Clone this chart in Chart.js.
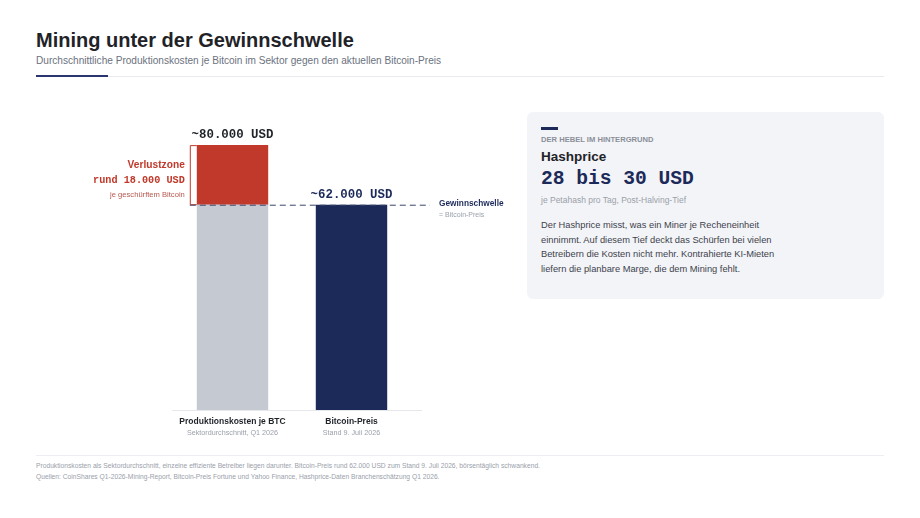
<!DOCTYPE html>
<html>
<head>
<meta charset="utf-8">
<title>Mining unter der Gewinnschwelle</title>
<script src="https://cdn.jsdelivr.net/npm/chart.js@4.4.0/dist/chart.umd.min.js"></script>
<style>
  html, body { margin: 0; padding: 0; background: #fff; }
  body { width: 920px; height: 518px; position: relative; overflow: hidden; font-family: "Liberation Sans", Arial, sans-serif; color: #1f2328; }
  h1 { position: absolute; left: 36px; top: 29px; margin: 0; font-size: 20px; font-weight: 700; color: #1f2328; }
  .sub { position: absolute; left: 36px; top: 55px; font-size: 10.1px; color: #6b7280; }
  .rule { position: absolute; left: 36px; top: 76px; width: 848px; height: 1px; background: #e8eaee; }
  .accent { position: absolute; left: 36px; top: 75px; width: 72px; height: 2px; background: #2b3570; }
  #wrap { position: absolute; left: 36px; top: 95px; width: 500px; height: 350px; }
  .card { position: absolute; left: 527px; top: 112px; width: 357px; height: 187px; background: #f3f4f7; border-radius: 6px; }
  .card .bar { position: absolute; left: 14px; top: 15px; width: 17px; height: 3px; background: #1c2a5a; }
  .card .kicker { position: absolute; left: 14px; top: 23px; font-size: 7.6px; font-weight: 700; color: #8a8f99; }
  .card .name { position: absolute; left: 14px; top: 37px; font-size: 13.5px; font-weight: 700; color: #1f2328; }
  .card .big { position: absolute; left: 14px; top: 56px; font-family: "Liberation Mono", monospace; font-size: 19.6px; font-weight: 700; color: #1c2a5a; }
  .card .unit { position: absolute; left: 14px; top: 83px; font-size: 8.5px; color: #9aa0aa; }
  .card .text { position: absolute; left: 14px; top: 106px; width: 250px; font-size: 9.3px; line-height: 14.6px; color: #3d424c; }
  .frule { position: absolute; left: 36px; top: 455px; width: 848px; height: 1px; background: #eceef1; }
  .foot { position: absolute; left: 36px; font-size: 6.7px; color: #9aa0aa; }
</style>
</head>
<body>
<h1>Mining unter der Gewinnschwelle</h1>
<div class="sub">Durchschnittliche Produktionskosten je Bitcoin im Sektor gegen den aktuellen Bitcoin-Preis</div>
<div class="rule"></div>
<div class="accent"></div>

<div id="wrap"><canvas id="myChart" width="500" height="350"></canvas></div>

<div class="card">
  <div class="bar"></div>
  <div class="kicker">DER HEBEL IM HINTERGRUND</div>
  <div class="name">Hashprice</div>
  <div class="big">28 bis 30 USD</div>
  <div class="unit">je Petahash pro Tag, Post-Halving-Tief</div>
  <div class="text">Der Hashprice misst, was ein Miner je Recheneinheit einnimmt. Auf diesem Tief deckt das Schürfen bei vielen Betreibern die Kosten nicht mehr. Kontrahierte KI-Mieten liefern die planbare Marge, die dem Mining fehlt.</div>
</div>

<div class="frule"></div>
<div class="foot" style="top:462px">Produktionskosten als Sektordurchschnitt, einzelne effiziente Betreiber liegen darunter. Bitcoin-Preis rund 62.000 USD zum Stand 9. Juli 2026, börsentäglich schwankend.</div>
<div class="foot" style="top:473px">Quellen: CoinShares Q1-2026-Mining-Report, Bitcoin-Preis Fortune und Yahoo Finance, Hashprice-Daten Branchenschätzung Q1 2026.</div>

<script>
// Daten
const categories = ['Produktionskosten je BTC', 'Bitcoin-Preis'];
const subLabels = ['Sektordurchschnitt, Q1 2026', 'Stand 9. Juli 2026'];
const baseValues = [62000, 62000];
const lossValues = [18000, 0];
const valueLabels = ['~80.000 USD', '~62.000 USD'];
const breakEven = 62000;

const RED = '#c0392b';
const NAVY = '#1c2a5a';
const GREY = '#c5c9d2';
const MONO = '"Liberation Mono", monospace';
const SANS = '"Liberation Sans", Arial, sans-serif';

// eigene Beschriftungen
const labelsPlugin = {
  id: 'labels',
  afterDatasetsDraw(chart) {
    const ctx = chart.ctx;
    const area = chart.chartArea;
    const x = chart.scales.x;
    const y = chart.scales.y;
    const b0 = chart.getDatasetMeta(0).data;
    const l0 = chart.getDatasetMeta(1).data[0];
    const yZero = y.getPixelForValue(0);
    const yBe = y.getPixelForValue(breakEven);
    const yTop = y.getPixelForValue(baseValues[0] + lossValues[0]);
    const left0 = l0.x - l0.width / 2;

    ctx.save();
    // Grundlinie
    ctx.strokeStyle = '#e6e8ec';
    ctx.lineWidth = 1;
    ctx.beginPath();
    ctx.moveTo(area.left - 1, Math.round(yZero) + 0.5);
    ctx.lineTo(area.right + 11, Math.round(yZero) + 0.5);
    ctx.stroke();

    // Klammer Verlustzone
    ctx.strokeStyle = RED;
    ctx.beginPath();
    ctx.moveTo(left0, yTop + 0.5);
    ctx.lineTo(left0 - 6.5, yTop + 0.5);
    ctx.lineTo(left0 - 6.5, yBe);
    ctx.lineTo(left0, yBe);
    ctx.stroke();

    // Gewinnschwelle
    ctx.strokeStyle = '#3a4468';
    ctx.setLineDash([6, 4]);
    ctx.beginPath();
    ctx.moveTo(left0 - 7, yBe + 0.5);
    ctx.lineTo(area.right + 19, yBe + 0.5);
    ctx.stroke();
    ctx.setLineDash([]);

    ctx.textAlign = 'left';
    ctx.textBaseline = 'middle';
    ctx.fillStyle = NAVY;
    ctx.font = 'bold 8.3px ' + SANS;
    ctx.fillText('Gewinnschwelle', area.right + 28, yBe - 1);
    ctx.fillStyle = '#9aa0aa';
    ctx.font = '7px ' + SANS;
    ctx.fillText('= Bitcoin-Preis', area.right + 28, yBe + 10);

    // Verlustzone Text
    ctx.textAlign = 'right';
    ctx.fillStyle = RED;
    ctx.font = 'bold 10.2px ' + SANS;
    ctx.fillText('Verlustzone', left0 - 12, yTop + 20);
    ctx.font = 'bold 10.2px ' + MONO;
    ctx.fillText('rund 18.000 USD', left0 - 12, yTop + 35);
    ctx.fillStyle = '#b5574c';
    ctx.font = '7.6px ' + SANS;
    ctx.fillText('je geschürftem Bitcoin', left0 - 12, yTop + 50);

    // Werte über Balken
    ctx.textAlign = 'center';
    ctx.textBaseline = 'alphabetic';
    ctx.font = 'bold 12.4px ' + MONO;
    categories.forEach((c, i) => {
      const top = y.getPixelForValue(baseValues[i] + lossValues[i]);
      ctx.fillStyle = i === 0 ? '#1f2328' : NAVY;
      ctx.fillText(valueLabels[i], b0[i].x, top - 7);
    });

    // Kategorien
    ctx.textBaseline = 'middle';
    categories.forEach((c, i) => {
      const cx = x.getPixelForValue(i);
      ctx.fillStyle = '#1f2328';
      ctx.font = 'bold 8.5px ' + SANS;
      ctx.fillText(c, cx, yZero + 12);
      ctx.fillStyle = '#9aa0aa';
      ctx.font = '7.2px ' + SANS;
      ctx.fillText(subLabels[i], cx, yZero + 23);
    });
    ctx.restore();
  }
};

const chart = new Chart(document.getElementById('myChart').getContext('2d'), {
  type: 'bar',
  data: {
    labels: categories,
    datasets: [
      {
        label: 'Basis',
        data: baseValues,
        backgroundColor: [GREY, NAVY],
        borderWidth: 0,
        barPercentage: 0.6,
        categoryPercentage: 1
      },
      {
        label: 'Verlust',
        data: lossValues,
        backgroundColor: RED,
        borderWidth: 0,
        barPercentage: 0.6,
        categoryPercentage: 1
      }
    ]
  },
  options: {
    responsive: false,
    animation: false,
    layout: { padding: { left: 137, right: 125, top: 17, bottom: 35 } },
    plugins: { legend: { display: false }, tooltip: { enabled: false } },
    scales: {
      x: { stacked: true, display: false },
      y: { stacked: true, display: false, min: 0, max: 90000 }
    }
  },
  plugins: [labelsPlugin]
});
</script>
</body>
</html>
